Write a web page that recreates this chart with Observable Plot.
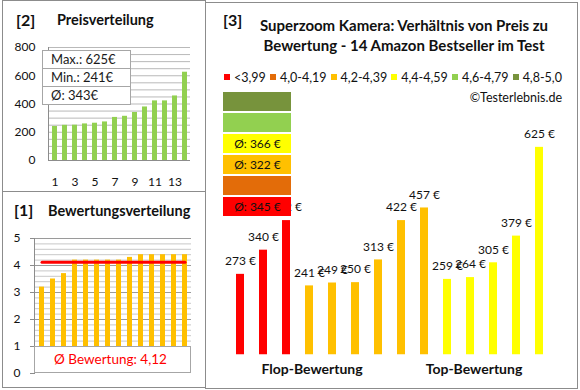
<!DOCTYPE html>
<html><head><meta charset="utf-8">
<script src="https://cdn.jsdelivr.net/npm/d3@7"></script>
<script src="https://cdn.jsdelivr.net/npm/@observablehq/plot@0.6"></script>
<style>
body{margin:0;background:#fff;font-family:Lato,"Open Sans",sans-serif;color:#111;}
#root{position:relative;width:580px;height:390px;overflow:hidden;background:#fff;}
.abs{position:absolute;white-space:nowrap;}
.panel{position:absolute;border:1px solid #8c8c8c;box-sizing:border-box;}
.plot{position:absolute;}
</style></head><body><div id="root"></div>
<script>
// ---- data (products in order of rating, as in panel [3]) ----
const prices  = [273, 340, 422, 241, 249, 250, 313, 422, 457, 259, 264, 305, 379, 625];
const ratings = [3.2, 3.5, 3.7, 4.2, 4.2, 4.2, 4.2, 4.3, 4.2, 4.4, 4.4, 4.4, 4.4, 4.4];
const groupLabels = ["<3,99", "4,0-4,19", "4,2-4,39", "4,4-4,59", "4,6-4,79", "4,8-5,0"];
const groupMins   = [0, 4.0, 4.2, 4.4, 4.6, 4.8];
const groupColors = ["#FF0000", "#E36C09", "#FFC000", "#FFFF00", "#92D050", "#77933C"];
const priceTicks  = [0, 200, 400, 600, 800];
const ratingTicks = [0, 1, 2, 3, 4, 5];
const rankTicks   = [1, 3, 5, 7, 9, 11, 13];
const titleMain   = ["Superzoom Kamera: Verhältnis von Preis zu", "Bewertung - 14 Amazon Bestseller im Test"];

const root = document.getElementById("root");
function add(html, css, cls="abs") {
  const d = document.createElement("div"); d.className = cls; d.innerHTML = html;
  Object.assign(d.style, css); root.appendChild(d); return d;
}
function place(svg, left, top) {
  const d = document.createElement("div"); d.className = "plot";
  d.style.left = left + "px"; d.style.top = top + "px"; d.appendChild(svg); root.appendChild(d);
}
const groupOf = r => { let g = 0; groupMins.forEach((m, i) => { if (r >= m - 1e-9) g = i; }); return g; };

const products = prices.map((p, i) => ({i, price: p, rating: ratings[i], g: groupOf(ratings[i])}));
const sortedPrices = prices.slice().sort((a, b) => a - b).map((v, i) => ({rank: i + 1, v}));
const sortedRatings = ratings.slice().sort((a, b) => a - b).map((v, i) => ({rank: i + 1, v}));
const avgRating = d3.mean(ratings);

// ---- panel borders ----
add("", {left:"2px", top:"0px", width:"204px", height:"192px"}, "panel");
add("", {left:"2px", top:"191px", width:"204px", height:"197px"}, "panel");
add("", {left:"205px", top:"2px", width:"373px", height:"387px"}, "panel");

const baseStyle = {fontFamily: "Lato, sans-serif", fontSize: "12px", color: "#111", background: "transparent", overflow: "visible"};

// ---- panel [2] Preisverteilung ----
const p2 = Plot.plot({
  width: 205, height: 191, marginLeft: 48, marginRight: 15, marginTop: 47, marginBottom: 31,
  style: baseStyle,
  x: {type: "band", domain: d3.range(1, 15), paddingInner: 0.5, paddingOuter: 0.25, axis: null},
  y: {domain: [0, 800], axis: null},
  marks: [
    Plot.ruleY(d3.range(50, 801, 50), {stroke: "#b9b9b9"}),
    Plot.barY(sortedPrices, {x: "rank", y: "v", fill: "#92D050"}),
    Plot.frame({anchor: "left", stroke: "#8c8c8c"}),
    Plot.ruleY([0], {stroke: "#8c8c8c"}),
    Plot.axisY({ticks: priceTicks, tickSize: 0, tickPadding: 13, label: null, fontSize: 12, tickFormat: d => String(d)}),
    Plot.axisX({ticks: rankTicks, tickSize: 0, tickPadding: 17, label: null, fontSize: 12, tickFormat: d => String(d)})
  ]
});
place(p2, 0, 0);
add("[2]", {left:"16px", top:"10px", fontSize:"16px", fontWeight:"bold", lineHeight:"20px"});
add("Preisverteilung", {left:"57px", top:"11px", fontSize:"14.5px", fontWeight:"bold", lineHeight:"18px"});
{
  const yS = p2.scale("y");
  const top = yS.apply(780), rowH = 18.3;
  const box = add("", {left:"42px", top: top + "px", width:"89px", height:(rowH*3)+"px", background:"#fff",
    border:"1px solid #a6a6a6", boxSizing:"border-box"});
  const rows = [`Max.: ${d3.max(prices)}€`, `Min.: ${d3.min(prices)}€`, `Ø: ${Math.round(d3.mean(prices))}€`];
  rows.forEach((r, k) => {
    const d = document.createElement("div");
    Object.assign(d.style, {height: (rowH - (k < 2 ? 1 : 0)) + "px", lineHeight: (rowH-1) + "px", paddingLeft: "8px",
      fontSize: "13px", color: "#1a1a1a", borderBottom: k < 2 ? "1px solid #a6a6a6" : "none", boxSizing:"content-box"});
    d.textContent = r; box.appendChild(d);
  });
}

// ---- panel [1] Bewertungsverteilung ----
const minorR = d3.range(1, 25).map(k => k / 5).filter(v => Math.abs(v - Math.round(v)) > 1e-6);
const p1 = Plot.plot({
  width: 205, height: 197, marginLeft: 34, marginRight: 14, marginTop: 47, marginBottom: 15,
  style: baseStyle,
  x: {type: "band", domain: d3.range(1, 15), paddingInner: 0.58, paddingOuter: 0.29, axis: null},
  y: {domain: [0, 5], axis: null},
  marks: [
    Plot.ruleY(minorR, {stroke: "#c8c8c8"}),
    Plot.ruleY([1, 2, 3, 4, 5], {stroke: "#9a9a9a"}),
    Plot.barY(sortedRatings, {x: "rank", y: "v", fill: "#FFC000"}),
    Plot.lineY(sortedRatings, {x: "rank", y: () => avgRating, stroke: "#FF0000", strokeWidth: 3}),
    Plot.frame({anchor: "left", stroke: "#8c8c8c"}),
    Plot.axisY({ticks: ratingTicks, tickSize: 4, tickPadding: 10, label: null, fontSize: 12, stroke: "#8c8c8c", tickFormat: d => String(d)})
  ]
});
place(p1, 0, 191);
add("[1]", {left:"14px", top:"200px", fontSize:"16px", fontWeight:"bold", lineHeight:"20px"});
add("Bewertungsverteilung", {left:"48px", top:"202px", fontSize:"14.5px", fontWeight:"bold", lineHeight:"18px"});
{
  const yS = p1.scale("y");
  const t = 191 + yS.apply(1), b = 191 + yS.apply(0);
  add(`Ø Bewertung: ${avgRating.toFixed(2).replace(".", ",")}`,
    {left:"34px", top: t + "px", width:"157px", height:(b - t) + "px", background:"#fff", border:"1px solid #a6a6a6",
     boxSizing:"border-box", color:"#FF0000", fontSize:"13.5px", textAlign:"center", lineHeight:(b - t - 2) + "px", textIndent:"-4px"});
}

// ---- panel [3] ----
const p3 = Plot.plot({
  width: 371, height: 388, marginLeft: 15.5, marginRight: 19.8, marginTop: 119.8, marginBottom: 33.7,
  style: baseStyle,
  x: {type: "band", domain: d3.range(14), paddingInner: 0.64, paddingOuter: 0.32, axis: null},
  y: {domain: [50, 700], axis: null},
  marks: [
    Plot.barY(products, {x: "i", y: "price", fill: d => groupColors[d.g], clip: true}),
    Plot.text(products, {x: "i", y: "price", text: d => `${d.price} €`, dy: -13, fontSize: 12, fill: "#111"})
  ]
});
place(p3, 206, 0);
add("[3]", {left:"223px", top:"10px", fontSize:"16px", fontWeight:"bold", lineHeight:"20px"});
add(titleMain.join("<br>"), {left:"234px", top:"15px", width:"340px", textAlign:"center", fontSize:"15px",
  fontWeight:"bold", lineHeight:"20px"});
{
  const leg = add("", {left:"224px", top:"69px", width:"338px", height:"16px", display:"flex",
    justifyContent:"space-between", alignItems:"center"});
  groupLabels.forEach((lab, k) => {
    const it = document.createElement("div");
    Object.assign(it.style, {display:"flex", alignItems:"center", fontSize:"12.5px"});
    it.innerHTML = `<span style="display:inline-block;width:6px;height:6px;background:${groupColors[k]};margin-right:4px"></span>${lab}`;
    leg.appendChild(it);
  });
}
add("©Testerlebnis.de", {right:"18px", top:"90px", fontSize:"12.5px", lineHeight:"16px"});
add("Flop-Bewertung", {left:"212px", width:"200px", textAlign:"center", top:"360px", fontSize:"14px", fontWeight:"bold", lineHeight:"18px"});
add("Top-Bewertung", {left:"374px", width:"200px", textAlign:"center", top:"360px", fontSize:"14px", fontWeight:"bold", lineHeight:"18px"});

// ---- group average boxes ----
const groups = groupLabels.map((lab, k) => {
  const ps = products.filter(d => d.g === k).map(d => d.price);
  return {lab, color: groupColors[k], avg: ps.length ? `Ø: ${Math.round(d3.mean(ps))} €` : ""};
});
const pb = Plot.plot({
  width: 68, height: 128, margin: 0,
  style: baseStyle,
  x: {domain: [0, 1], axis: null},
  y: {type: "band", domain: groupLabels.slice().reverse(), paddingInner: 0.1, paddingOuter: 0.05, axis: null},
  marks: [
    Plot.barX(groups, {y: "lab", x1: () => 0, x2: () => 1, fill: "color"}),
    Plot.text(groups, {y: "lab", x: () => 0.5, text: "avg", fontSize: 12, fill: "#111"})
  ]
});
place(pb, 223, 90);
</script></body></html>
